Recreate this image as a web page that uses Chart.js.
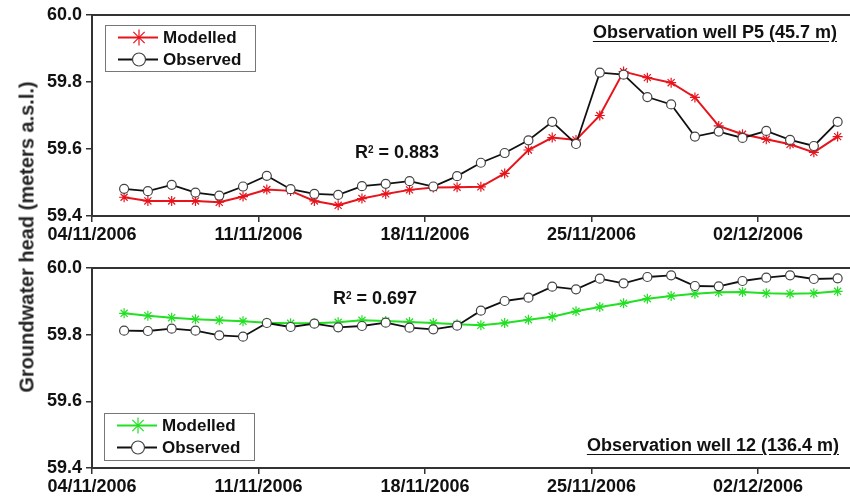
<!DOCTYPE html>
<html>
<head>
<meta charset="utf-8">
<script src="https://cdn.jsdelivr.net/npm/chart.js"></script>
<style>
  html, body { margin: 0; padding: 0; background: #fff; }
  #wrap { position: relative; width: 850px; height: 498px; overflow: hidden; font-family: Arial, 'Liberation Sans', sans-serif; color: #111; }
  canvas { position: absolute; left: 0; }
  .note { position: absolute; font-weight: bold; font-size: 18px; line-height: 20px; white-space: nowrap; }
  .title { text-decoration: underline; text-underline-offset: 3px; }
  .note sup { font-size: 10px; position: relative; top: -2px; vertical-align: top; }
  #ylab { position: absolute; left: 27px; top: 237px; transform: translate(-50%, -50%) rotate(-90deg); font-size: 20px; font-weight: bold; white-space: nowrap; color: #222; }
</style>
</head>
<body>
<div id="wrap">
  <canvas id="topChart" width="850" height="250" style="top:0"></canvas>
  <canvas id="bottomChart" width="850" height="248" style="top:250px"></canvas>
  <div id="ylab">Groundwater head (meters a.s.l.)</div>
  <div class="note title" style="right:13px; top:22px">Observation well P5 (45.7 m)</div>
  <div class="note title" style="right:11px; top:435px">Observation well 12 (136.4 m)</div>
  <div class="note" style="left:355px; top:142px">R<sup>2</sup> = 0.883</div>
  <div class="note" style="left:333px; top:288px">R<sup>2</sup> = 0.697</div>
</div>
<script>
// axis ticks
const xTickDays = [0, 7, 14, 21, 28];
const xTickLabels = ['04/11/2006', '11/11/2006', '18/11/2006', '25/11/2006', '02/12/2006'];
const yTicks = [59.4, 59.6, 59.8, 60.0];

// daily readings, taken at about 08:24
const sampleDates = [
  '05/11/2006', '06/11/2006', '07/11/2006', '08/11/2006', '09/11/2006', '10/11/2006',
  '11/11/2006', '12/11/2006', '13/11/2006', '14/11/2006', '15/11/2006', '16/11/2006',
  '17/11/2006', '18/11/2006', '19/11/2006', '20/11/2006', '21/11/2006', '22/11/2006',
  '23/11/2006', '24/11/2006', '25/11/2006', '26/11/2006', '27/11/2006', '28/11/2006',
  '29/11/2006', '30/11/2006', '01/12/2006', '02/12/2006', '03/12/2006', '04/12/2006',
  '05/12/2006'
];
const sampleHour = 8.4;

// well P5 (45.7 m)
const p5Modelled = [59.456, 59.445, 59.445, 59.445, 59.441, 59.458, 59.479, 59.475, 59.445, 59.432,
  59.452, 59.466, 59.478, 59.485, 59.486, 59.487, 59.527, 59.597, 59.634, 59.627,
  59.700, 59.831, 59.813, 59.798, 59.754, 59.669, 59.644, 59.629, 59.614, 59.590, 59.637];
const p5Observed = [59.481, 59.474, 59.493, 59.470, 59.461, 59.488, 59.520, 59.480, 59.466, 59.463,
  59.489, 59.496, 59.504, 59.488, 59.519, 59.559, 59.588, 59.626, 59.681, 59.615,
  59.828, 59.822, 59.755, 59.733, 59.637, 59.652, 59.633, 59.654, 59.627, 59.609, 59.681];

// well 12 (136.4 m)
const w12Modelled = [59.864, 59.857, 59.851, 59.846, 59.843, 59.840, 59.836, 59.834, 59.834, 59.837,
  59.843, 59.841, 59.838, 59.835, 59.831, 59.828, 59.835, 59.845, 59.854, 59.870,
  59.883, 59.894, 59.908, 59.916, 59.923, 59.927, 59.928, 59.924, 59.923, 59.924, 59.930];
const w12Observed = [59.812, 59.811, 59.818, 59.812, 59.798, 59.794, 59.835, 59.823, 59.833, 59.822,
  59.826, 59.836, 59.821, 59.816, 59.827, 59.872, 59.901, 59.911, 59.944, 59.936,
  59.968, 59.954, 59.973, 59.978, 59.946, 59.945, 59.961, 59.971, 59.978, 59.967, 59.969];

function toDay(s) {
  const [d, m, y] = s.split('/').map(Number);
  const t0 = Date.UTC(2006, 10, 4);
  return (Date.UTC(y, m - 1, d) - t0) / 86400000;
}
const sampleX = sampleDates.map(s => toDay(s) + sampleHour / 24);
const pts = vals => vals.map((v, i) => ({ x: sampleX[i], y: v }));

const FONT = { family: "Arial, 'Liberation Sans', sans-serif", size: 18, weight: 'bold' };
const AXIS = '#333';

function drawMarker(ctx, style, x, y, r, stroke, fill) {
  ctx.save();
  ctx.strokeStyle = stroke;
  if (style === 'circle') {
    ctx.lineWidth = 1.2;
    ctx.fillStyle = fill;
    ctx.beginPath();
    ctx.arc(x, y, r, 0, Math.PI * 2);
    ctx.fill();
    ctx.stroke();
  } else {
    ctx.lineWidth = 1.2;
    ctx.beginPath();
    for (let k = 0; k < 4; k++) {
      const a = k * Math.PI / 4;
      ctx.moveTo(x - r * Math.cos(a), y - r * Math.sin(a));
      ctx.lineTo(x + r * Math.cos(a), y + r * Math.sin(a));
    }
    ctx.stroke();
  }
  ctx.restore();
}

// top frame line + boxed legend
const framePlugin = {
  id: 'frame',
  afterDraw(chart, args, opts) {
    const { ctx, chartArea } = chart;
    ctx.save();
    ctx.strokeStyle = AXIS;
    ctx.lineWidth = 2;
    ctx.beginPath();
    ctx.moveTo(chartArea.left, chartArea.top);
    ctx.lineTo(chart.width, chartArea.top);
    ctx.stroke();

    const b = opts.box;
    ctx.strokeStyle = '#777';
    ctx.lineWidth = 1;
    ctx.strokeRect(b.x + 0.5, b.y + 0.5, b.w, b.h);
    chart.data.datasets.forEach((ds, i) => {
      const cy = b.y + 12.5 + i * 22;
      ctx.strokeStyle = ds.borderColor;
      ctx.lineWidth = 1.8;
      ctx.beginPath();
      ctx.moveTo(b.x + 13, cy);
      ctx.lineTo(b.x + 53, cy);
      ctx.stroke();
      const r = ds.pointStyle === 'circle' ? 6.5 : 8;
      drawMarker(ctx, ds.pointStyle, b.x + 34, cy, r, ds.pointBorderColor, ds.pointBackgroundColor);
      ctx.fillStyle = '#111';
      ctx.font = "bold 17px Arial, 'Liberation Sans', sans-serif";
      ctx.textBaseline = 'middle';
      ctx.fillText(ds.label, b.x + 58, cy + 1);
    });
    ctx.restore();
  }
};

function makeChart(id, modelled, observed, modelColor, padTop, xHeight, box) {
  return new Chart(document.getElementById(id), {
    type: 'line',
    data: {
      datasets: [
        {
          label: 'Modelled',
          data: pts(modelled),
          borderColor: modelColor,
          borderWidth: 2,
          pointStyle: 'star',
          pointRadius: 5,
          pointBorderColor: modelColor,
          pointBackgroundColor: modelColor,
          pointBorderWidth: 1.2,
          order: 2
        },
        {
          label: 'Observed',
          data: pts(observed),
          borderColor: '#111',
          borderWidth: 1.8,
          pointStyle: 'circle',
          pointRadius: 4.5,
          pointBorderColor: '#444',
          pointBackgroundColor: '#fff',
          pointBorderWidth: 1.2,
          order: 1
        }
      ]
    },
    options: {
      responsive: false,
      devicePixelRatio: 1,
      animation: false,
      layout: { autoPadding: false, padding: { top: padTop, left: 0, right: 0, bottom: 0 } },
      plugins: { legend: { display: false }, tooltip: { enabled: false }, frame: { box: box } },
      scales: {
        x: {
          type: 'linear',
          min: 0,
          max: 31.87,
          afterFit: s => { s.height = xHeight; },
          afterBuildTicks: s => { s.ticks = xTickDays.map(v => ({ value: v })); },
          border: { display: true, color: AXIS, width: 2 },
          grid: { display: true, drawOnChartArea: false, drawTicks: true, tickLength: 6, color: AXIS, lineWidth: 1.5 },
          ticks: {
            autoSkip: false, maxRotation: 0, padding: 2, color: '#111', font: FONT,
            callback: v => xTickLabels[xTickDays.indexOf(v)]
          }
        },
        y: {
          min: 59.4,
          max: 60.0,
          afterFit: s => { s.width = 92; },
          afterBuildTicks: s => { s.ticks = yTicks.map(v => ({ value: v })); },
          border: { display: true, color: AXIS, width: 2 },
          grid: { display: true, drawOnChartArea: false, drawTicks: true, tickLength: 6, color: AXIS, lineWidth: 1.5 },
          ticks: { padding: 4, color: '#111', font: FONT, callback: v => v.toFixed(1) }
        }
      }
    },
    plugins: [framePlugin]
  });
}

makeChart('topChart', p5Modelled, p5Observed, '#e8141c', 15, 34, { x: 105, y: 25, w: 150, h: 46 });
makeChart('bottomChart', w12Modelled, w12Observed, '#22e022', 18, 30, { x: 104, y: 163, w: 150, h: 47 });
</script>
</body>
</html>
